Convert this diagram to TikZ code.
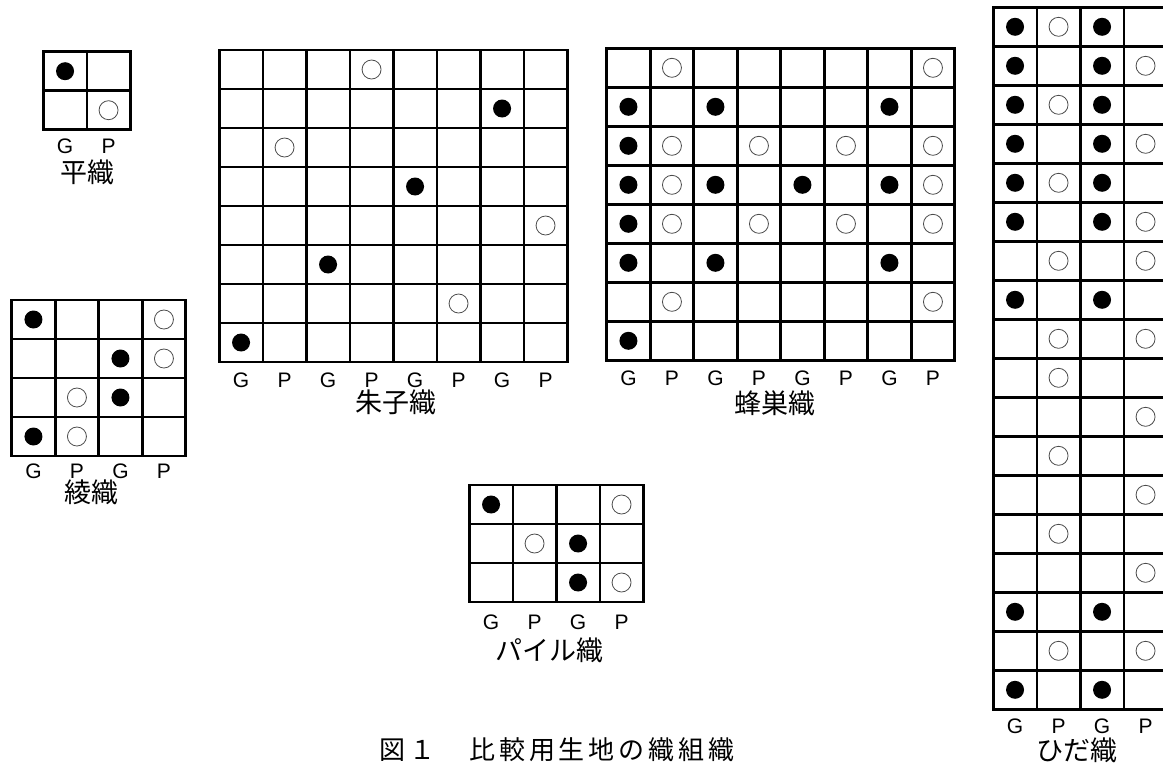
\documentclass[tikz,border=0pt]{standalone}
\usepackage{fontspec}
\setmainfont{Liberation Sans}
\newfontfamily\jpfont{Noto Sans CJK JP}
\usetikzlibrary{positioning}
\newcommand{\cellw}{43.5}
\newcommand{\cellh}{39}
\tikzset{
  % grid lines
  gridline/.style = {line width=2.6pt, line cap=rect},
  % yarn points
  dotblack/.style = {circle, fill=black, inner sep=0pt, minimum size=18pt},
  dotwhite/.style = {circle, draw=black!70, line width=0.8pt, inner sep=0pt, minimum size=19pt},
  % labels
  collab/.style  = {font=\fontsize{21}{21}\selectfont, inner sep=0pt},
  namelab/.style = {font=\jpfont\fontsize{27}{27}\selectfont, inner sep=0pt},
  caplab/.style  = {font=\jpfont\fontsize{26}{26}\selectfont\addfontfeature{LetterSpace=15}, inner sep=0pt},
}
% grid lines: #1 columns, #2 rows
\newcommand{\weavegrid}[2]{%
  \foreach \cx in {0,...,#1}
    \draw[gridline] (\cx*\cellw, 0) -- (\cx*\cellw, #2*\cellh);
  \foreach \ry in {0,...,#2}
    \draw[gridline] (0, \ry*\cellh) -- (#1*\cellw, \ry*\cellh);
}
% column labels G P G P ...: #1 prefix, #2 columns, #3 y
\newcommand{\gplabels}[3]{%
  \foreach \i in {1,...,#2}
    \node[collab] (#1-l\i) at ({(\i-0.5)*\cellw}, #3) {\ifodd\i G\else P\fi};
}
\begin{document}
\begin{tikzpicture}[x=1pt, y=-1pt]
  \useasboundingbox (0,0) rectangle (1163,764);
  \clip (0,0) rectangle (1163,764);

  % 平織
  \begin{scope}[shift={(43.3,51.7)}]
    \weavegrid{2}{2}
    \foreach \cx/\ry in {1/1}
      \node[dotblack] (hira-b\cx\ry) at ({(\cx-0.5)*\cellw}, {(\ry-0.5)*\cellh}) {};
    \foreach \cx/\ry in {2/2}
      \node[dotwhite] (hira-w\cx\ry) at ({(\cx-0.5)*\cellw}, {(\ry-0.5)*\cellh}) {};
    \gplabels{hira}{2}{95}
    \node[namelab] (hira-name) at (44,121) {平織};
  \end{scope}

  % 綾織
  \begin{scope}[shift={(11.7,300)}]
    \weavegrid{4}{4}
    \foreach \cx/\ry in {1/1, 3/2, 3/3, 1/4}
      \node[dotblack] (aya-b\cx\ry) at ({(\cx-0.5)*\cellw}, {(\ry-0.5)*\cellh}) {};
    \foreach \cx/\ry in {4/1, 4/2, 2/3, 2/4}
      \node[dotwhite] (aya-w\cx\ry) at ({(\cx-0.5)*\cellw}, {(\ry-0.5)*\cellh}) {};
    \gplabels{aya}{4}{171.5}
    \node[namelab] (aya-name) at (80,192.5) {綾織};
  \end{scope}

  % 朱子織
  \begin{scope}[shift={(219.3,50)}]
    \weavegrid{8}{8}
    \foreach \cx/\ry in {7/2, 5/4, 3/6, 1/8}
      \node[dotblack] (shusu-b\cx\ry) at ({(\cx-0.5)*\cellw}, {(\ry-0.5)*\cellh}) {};
    \foreach \cx/\ry in {4/1, 2/3, 8/5, 6/7}
      \node[dotwhite] (shusu-w\cx\ry) at ({(\cx-0.5)*\cellw}, {(\ry-0.5)*\cellh}) {};
    \gplabels{shusu}{8}{330}
    \node[namelab] (shusu-name) at (177,352) {朱子織};
  \end{scope}

  % 蜂巣織
  \begin{scope}[shift={(606.7,48.3)}]
    \weavegrid{8}{8}
    \foreach \cx/\ry in {1/2, 3/2, 7/2, 1/3, 1/4, 3/4, 5/4, 7/4, 1/5, 1/6, 3/6, 7/6, 1/8}
      \node[dotblack] (hachi-b\cx\ry) at ({(\cx-0.5)*\cellw}, {(\ry-0.5)*\cellh}) {};
    \foreach \cx/\ry in {2/1, 8/1, 2/3, 4/3, 6/3, 8/3, 2/4, 8/4, 2/5, 4/5, 6/5, 8/5, 2/7, 8/7}
      \node[dotwhite] (hachi-w\cx\ry) at ({(\cx-0.5)*\cellw}, {(\ry-0.5)*\cellh}) {};
    \gplabels{hachi}{8}{329.7}
    \node[namelab] (hachi-name) at (168,354.7) {蜂巣織};
  \end{scope}

  % パイル織
  \begin{scope}[shift={(469.3,485)}]
    \weavegrid{4}{3}
    \foreach \cx/\ry in {1/1, 3/2, 3/3}
      \node[dotblack] (pile-b\cx\ry) at ({(\cx-0.5)*\cellw}, {(\ry-0.5)*\cellh}) {};
    \foreach \cx/\ry in {4/1, 2/2, 4/3}
      \node[dotwhite] (pile-w\cx\ry) at ({(\cx-0.5)*\cellw}, {(\ry-0.5)*\cellh}) {};
    \gplabels{pile}{4}{137.5}
    \node[namelab] (pile-name) at (80,165) {パイル織};
  \end{scope}

  % ひだ織 (右端は切れている)
  \begin{scope}[shift={(993.3,7.3)}]
    \weavegrid{4}{18}
    \foreach \cx/\ry in {1/1, 3/1, 1/2, 3/2, 1/3, 3/3, 1/4, 3/4, 1/5, 3/5, 1/6, 3/6,
                         1/8, 3/8, 1/16, 3/16, 1/18, 3/18}
      \node[dotblack] (hida-b\cx-\ry) at ({(\cx-0.5)*\cellw}, {(\ry-0.5)*\cellh}) {};
    \foreach \cx/\ry in {2/1, 4/2, 2/3, 4/4, 2/5, 4/6, 2/7, 4/7, 2/9, 4/9,
                         2/10, 4/11, 2/12, 4/13, 2/14, 4/15, 2/17, 4/17}
      \node[dotwhite] (hida-w\cx-\ry) at ({(\cx-0.5)*\cellw}, {(\ry-0.5)*\cellh}) {};
    \gplabels{hida}{4}{719.4}
    \node[namelab] (hida-name) at (84,742.7) {ひだ織};
  \end{scope}

  % 図の題
  \node[caplab] (caption) at (557,750) {図１　比較用生地の織組織};
\end{tikzpicture}
\end{document}
